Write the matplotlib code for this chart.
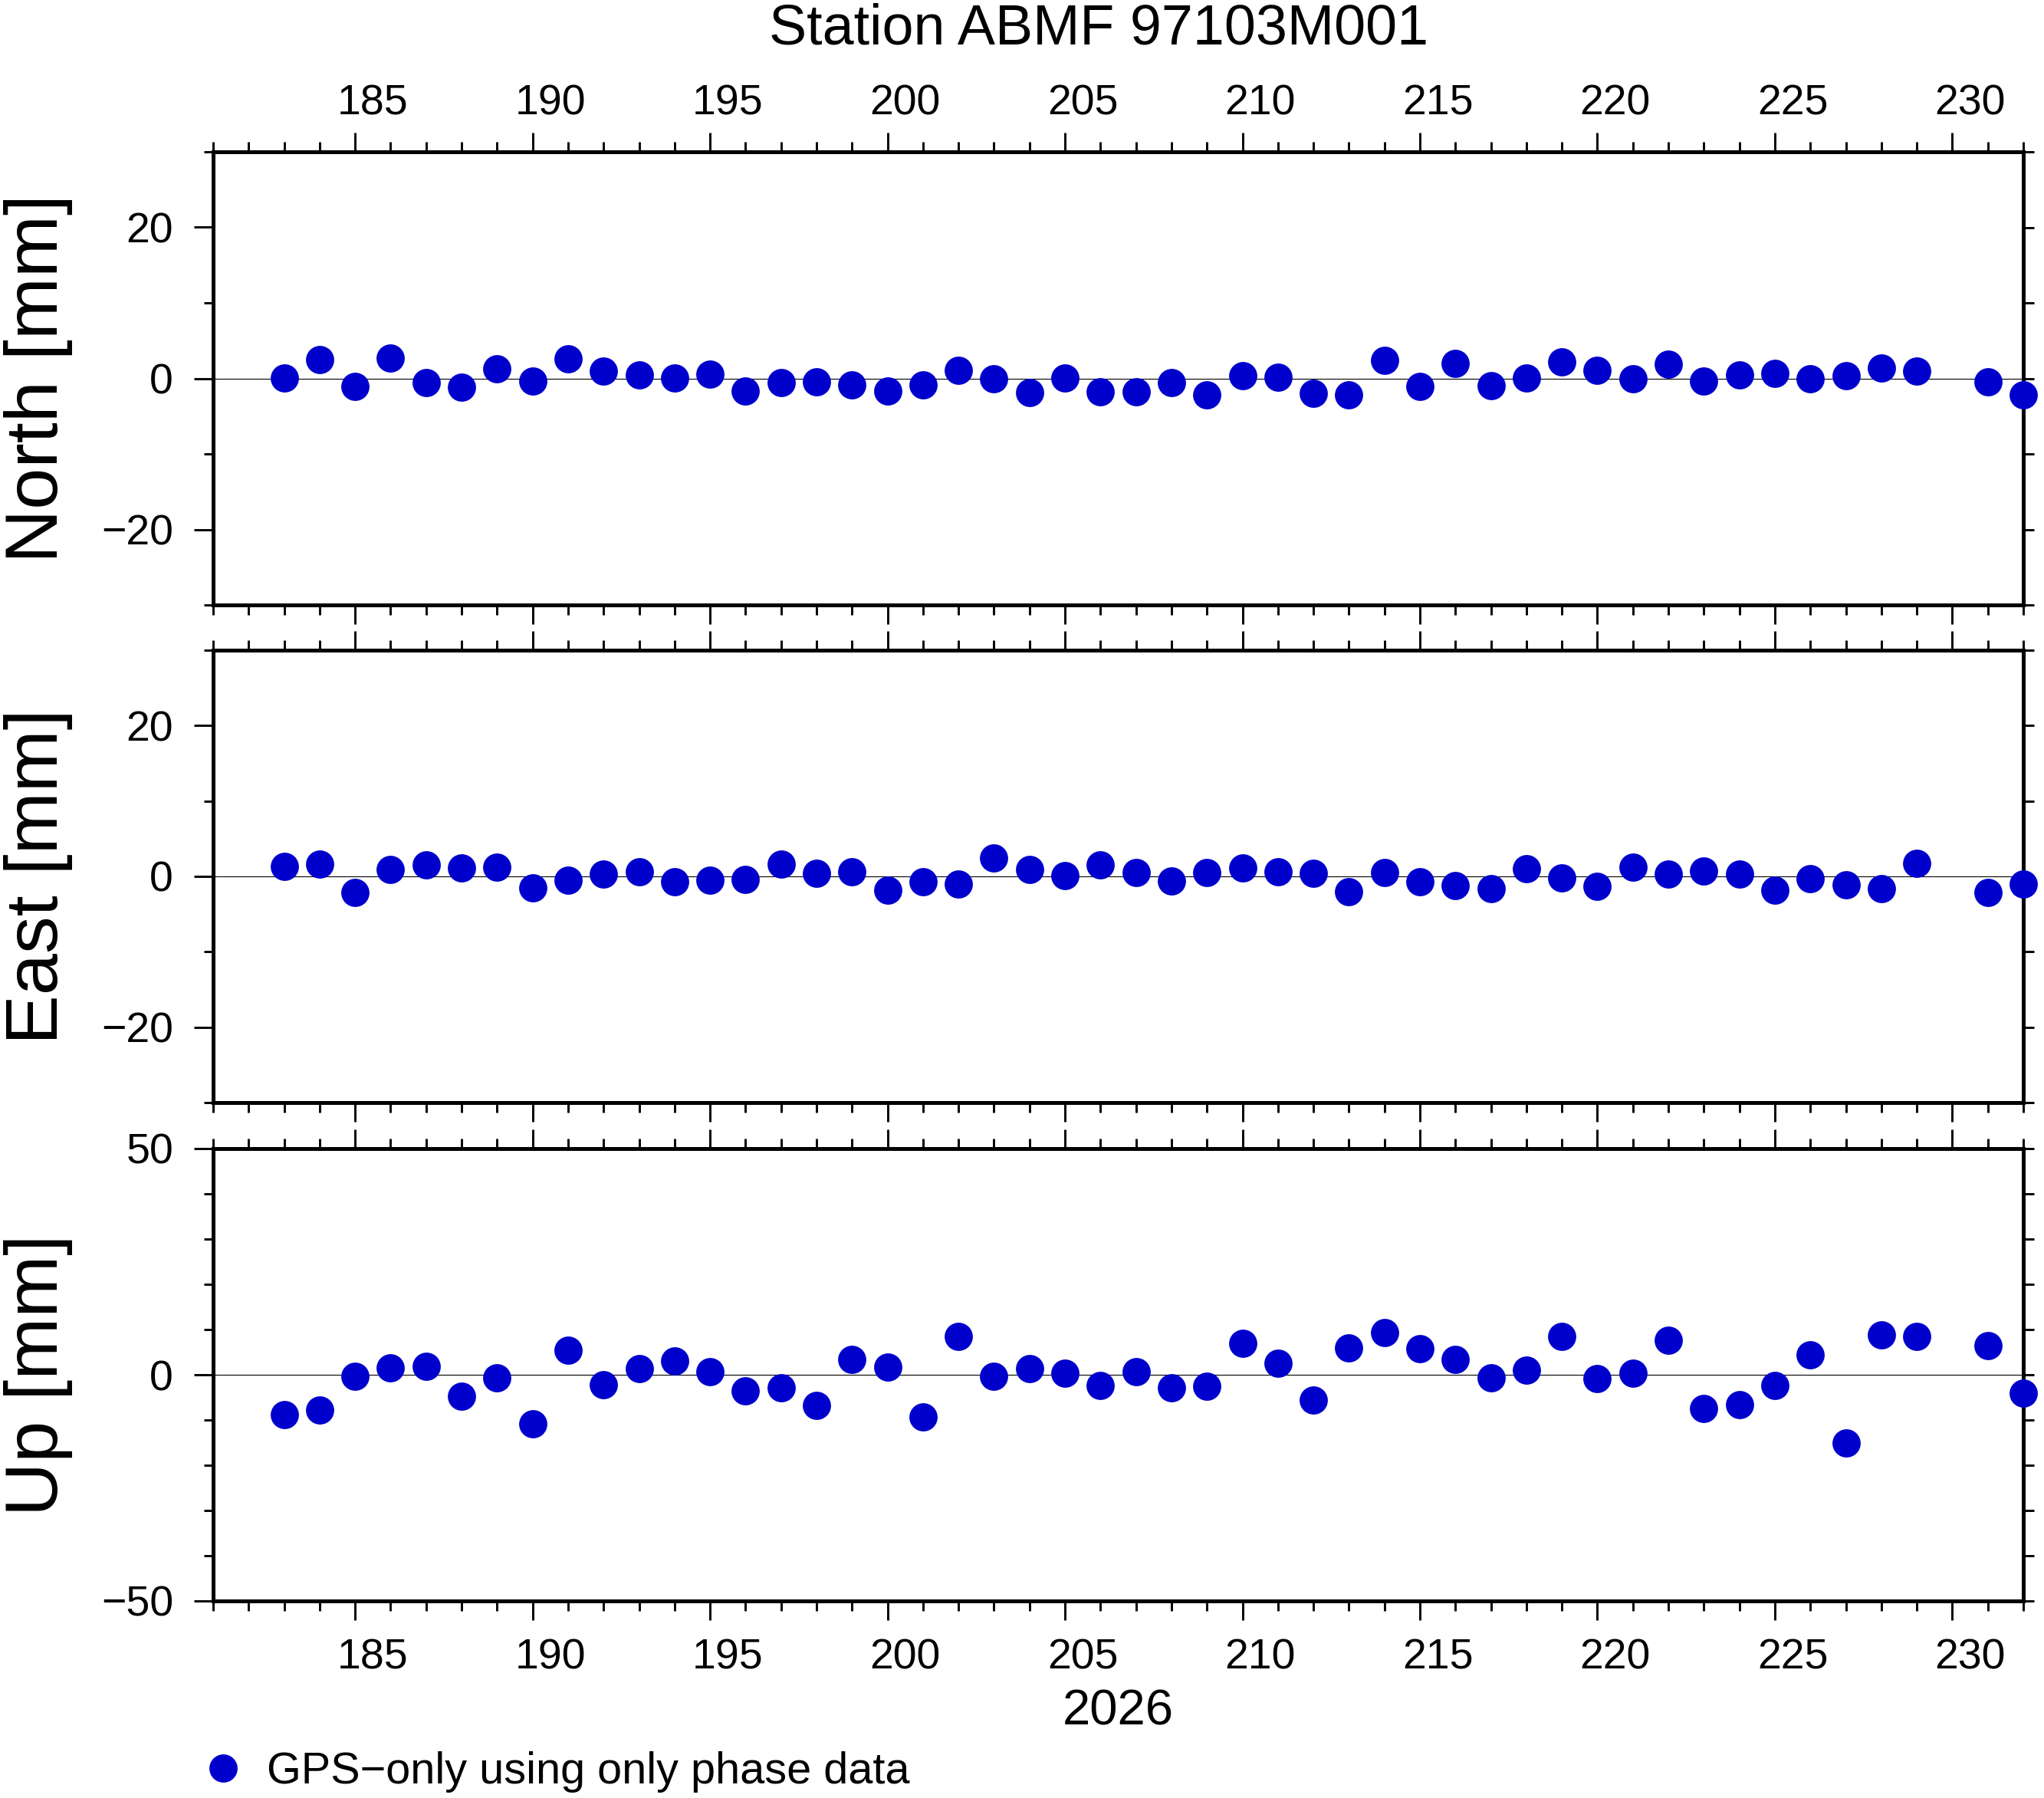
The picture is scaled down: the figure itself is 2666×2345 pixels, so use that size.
import numpy as np
import matplotlib
matplotlib.use('Agg')
import matplotlib.pyplot as plt
from matplotlib.ticker import MultipleLocator, NullFormatter

plt.rcParams['font.family'] = ['Liberation Sans', 'DejaVu Sans']

# ---------- data (day of year 2026, offsets in mm) ----------
days = [183, 184, 185, 186, 187, 188, 189, 190, 191, 192, 193, 194, 195,
        196, 197, 198, 199, 200, 201, 202, 203, 204, 205, 206, 207, 208,
        209, 210, 211, 212, 213, 214, 215, 216, 217, 218, 219, 220, 221,
        222, 223, 224, 225, 226, 227, 228, 229, 231, 232]

north = [0.1, 2.44, -1.05, 2.73, -0.53, -1.15, 1.22, -0.32, 2.54, 1.0,
         0.47, 0.1, 0.58, -1.64, -0.53, -0.44, -0.83, -1.66, -0.83, 1.02,
         0.0, -1.85, 0.08, -1.73, -1.73, -0.51, -2.14, 0.31, 0.2, -2.03,
         -2.14, 2.34, -1.02, 1.93, -0.92, 0.1, 2.14, 1.02, -0.1, 1.83,
         -0.31, 0.41, 0.61, -0.1, 0.31, 1.42, 0.92, -0.41, -2.17]

east = [1.32, 1.63, -2.14, 0.92, 1.53, 1.12, 1.22, -1.53, -0.51, 0.31,
        0.61, -0.71, -0.51, -0.41, 1.63, 0.41, 0.61, -1.86, -0.71, -1.02,
        2.44, 0.92, 0.1, 1.53, 0.51, -0.61, 0.51, 1.12, 0.61, 0.41,
        -2.03, 0.51, -0.71, -1.22, -1.63, 1.02, -0.2, -1.32, 1.22, 0.31,
        0.71, 0.31, -1.86, -0.31, -1.12, -1.63, 1.73, -2.14, -1.02]

up = [-8.76, -7.8, -0.34, 1.58, 1.86, -4.69, -0.68, -10.85, 5.42, -2.2,
      1.41, 3.1, 0.68, -3.56, -2.88, -6.78, 3.39, 1.69, -9.27, 8.47,
      -0.34, 1.41, 0.34, -2.37, 0.68, -2.88, -2.54, 6.95, 2.54, -5.59,
      5.93, 9.32, 5.76, 3.39, -0.68, 1.02, 8.47, -0.85, 0.34, 7.63,
      -7.46, -6.61, -2.37, 4.41, -15.08, 8.81, 8.47, 6.44, -4.07]

tick_days = [185, 190, 195, 200, 205, 210, 215, 220, 225, 230]
tick_labels = ['185', '190', '195', '200', '205', '210', '215', '220', '225', '230']

title = 'Station ABMF 97103M001'
year = '2026'
legend_text = 'GPS\u2212only using only phase data'

# ---------- layout (pixels) ----------
W, H = 2666, 2345
DPI = 100
BLUE = '#0000cd'
fig = plt.figure(figsize=(W / DPI, H / DPI), dpi=DPI)


def px_axes(left, top, right, bottom):
    return [left / W, 1 - bottom / H, (right - left) / W, (bottom - top) / H]


panels = [
    ('North [mm]', north, (-30, 30), 20, (198, 789)),
    ('East [mm]', east, (-30, 30), 20, (848, 1438)),
    ('Up [mm]', up, (-50, 50), 50, (1498, 2088)),
]

handle = None
for i, (name, vals, ylim, ystep, (top, bottom)) in enumerate(panels):
    ax = fig.add_axes(px_axes(278, top, 2639, bottom))
    ax.set_xlim(181, 232)
    ax.set_ylim(*ylim)
    ax.axhline(0, color='black', lw=0.8, zorder=1)
    handle, = ax.plot(days, vals, 'o', color=BLUE, ms=26.5, mec='none',
                      clip_on=False, zorder=4)

    for s in ax.spines.values():
        s.set_linewidth(3.6)

    # x ticks: 5-day major, daily minor, on top and bottom
    ax.xaxis.set_major_locator(MultipleLocator(5))
    ax.xaxis.set_minor_locator(MultipleLocator(1))
    ax.xaxis.set_major_formatter(NullFormatter())
    ax.tick_params(axis='x', which='both', direction='out', top=True,
                   bottom=True, labelbottom=False, labeltop=False, width=2.1)
    ax.tick_params(axis='x', which='major', length=18)
    ax.tick_params(axis='x', which='minor', length=9.5)

    # y ticks on the left
    ax.yaxis.set_major_locator(MultipleLocator(ystep))
    ax.yaxis.set_minor_locator(MultipleLocator(10))
    ax.tick_params(axis='y', which='both', direction='out', left=True,
                   right=False, labelsize=40, pad=19.4, width=2.1)
    ax.tick_params(axis='y', which='major', length=18)
    ax.tick_params(axis='y', which='minor', length=8.6)

    # short ticks on the right side
    rax = ax.secondary_yaxis('right')
    rax.set_ticks(np.arange(ylim[0], ylim[1] + 1, 10))
    rax.yaxis.set_major_formatter(NullFormatter())
    rax.tick_params(length=10, width=2.1, direction='out')
    rax.spines['right'].set_visible(False)

    ax.set_ylabel(name, fontsize=70)
    ax.yaxis.set_label_coords(-(278 - 95) / 2361, 0.5)

    # day labels sit half a day right of the ticks
    label_pos = [d + 0.5 for d in tick_days]
    if i == 0:
        sec = ax.secondary_xaxis('top')
        sec.set_ticks(label_pos, labels=tick_labels)
        sec.tick_params(length=0, pad=26, labelsize=40)
        sec.spines['top'].set_visible(False)
    if i == 2:
        sec = ax.secondary_xaxis('bottom')
        sec.set_ticks(label_pos, labels=tick_labels)
        sec.tick_params(length=0, pad=35, labelsize=40)
        sec.spines['bottom'].set_visible(False)
        ax.set_xlabel(year, fontsize=47)
        ax.xaxis.set_label_coords(0.5, -(2203 - 2088) / 590)

fig.text(1433 / W, 1 - 57 / H, title, ha='center', va='baseline', fontsize=53)

fig.legend(handles=[handle], labels=[legend_text], loc='center left',
           bbox_to_anchor=(262 / W, 1 - 2311 / H), frameon=False,
           borderpad=0, borderaxespad=0, handlelength=1.0,
           handletextpad=0.5, fontsize=41.5, numpoints=1)

fig.savefig('out.png', dpi=DPI)
